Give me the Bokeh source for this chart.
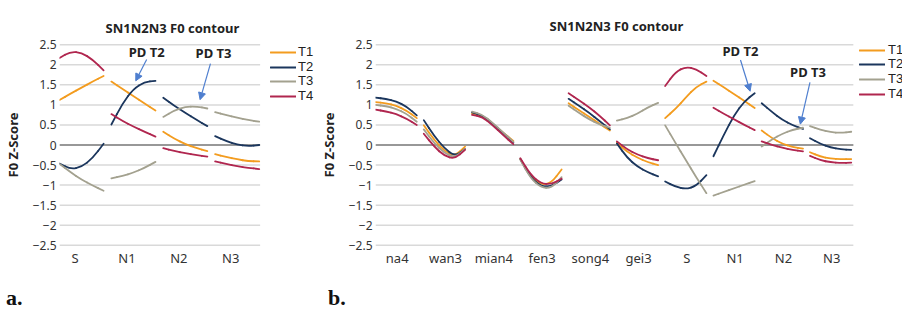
from bokeh.plotting import figure
from bokeh.models import FixedTicker, Label, Legend, LegendItem, Arrow, NormalHead, Range1d, Div
from bokeh.layouts import row, column
from bokeh.embed import file_html
from bokeh.resources import INLINE

# ---------------- data ----------------
tone_names = ["T1", "T2", "T3", "T4"]
tone_colors = ["#F39C1F", "#1B365D", "#A3A18F", "#B0264F"]

y_ticks = [-2.5, -2.0, -1.5, -1.0, -0.5, 0.0, 0.5, 1.0, 1.5, 2.0, 2.5]
y_tick_labels = ["\u22122.5", "\u22122", "\u22121.5", "\u22121", "\u22120.5", "0",
                 "0.5", "1", "1.5", "2", "2.5"]

# panel a: S N1 N2 N3 (5 samples per syllable)
a_syllables = ["S", "N1", "N2", "N3"]
a_T1 = [[1.12, 1.28, 1.43, 1.58, 1.72], [1.58, 1.40, 1.22, 1.04, 0.86],
        [0.33, 0.16, 0.02, -0.08, -0.15], [-0.23, -0.30, -0.36, -0.40, -0.41]]
a_T2 = [[-0.46, -0.60, -0.55, -0.33, 0.03], [0.51, 1.03, 1.40, 1.57, 1.60],
        [1.18, 0.98, 0.80, 0.63, 0.47], [0.22, 0.10, 0.01, -0.03, 0.00]]
a_T3 = [[-0.47, -0.68, -0.86, -1.01, -1.14], [-0.83, -0.77, -0.69, -0.57, -0.42],
        [0.70, 0.86, 0.95, 0.96, 0.91], [0.82, 0.75, 0.68, 0.62, 0.58]]
a_T4 = [[2.17, 2.33, 2.30, 2.13, 1.86], [0.77, 0.60, 0.46, 0.33, 0.21],
        [-0.08, -0.15, -0.21, -0.25, -0.29], [-0.41, -0.47, -0.53, -0.57, -0.60]]

# panel b: full sentence
b_syllables = ["na4", "wan3", "mian4", "fen3", "song4", "gei3", "S", "N1", "N2", "N3"]
b_T1 = [[1.07, 1.04, 0.98, 0.86, 0.67], [0.49, 0.13, -0.15, -0.28, -0.04],
        [0.78, 0.73, 0.53, 0.31, 0.10], [-0.35, -0.78, -0.99, -0.95, -0.61],
        [1.04, 0.87, 0.70, 0.53, 0.36], [0.06, -0.17, -0.32, -0.43, -0.50],
        [0.67, 0.90, 1.18, 1.45, 1.58], [1.60, 1.44, 1.27, 1.10, 0.92],
        [0.36, 0.17, 0.03, -0.05, -0.09], [-0.18, -0.29, -0.34, -0.35, -0.35]]
b_T2 = [[1.18, 1.15, 1.09, 0.96, 0.74], [0.62, 0.23, -0.08, -0.28, -0.10],
        [0.81, 0.74, 0.53, 0.30, 0.06], [-0.35, -0.81, -1.03, -1.03, -0.86],
        [1.15, 0.98, 0.80, 0.60, 0.39], [0.04, -0.32, -0.54, -0.68, -0.78],
        [-0.91, -1.04, -1.10, -1.02, -0.75], [-0.28, 0.25, 0.74, 1.09, 1.29],
        [1.04, 0.82, 0.63, 0.49, 0.40], [0.17, 0.03, -0.06, -0.11, -0.12]]
b_T3 = [[1.00, 0.97, 0.90, 0.78, 0.58], [0.39, 0.05, -0.20, -0.32, -0.10],
        [0.83, 0.76, 0.55, 0.32, 0.08], [-0.37, -0.83, -1.06, -1.07, -0.80],
        [0.98, 0.80, 0.64, 0.51, 0.43], [0.61, 0.67, 0.78, 0.94, 1.05],
        [0.49, 0.05, -0.37, -0.80, -1.20], [-1.26, -1.17, -1.08, -0.99, -0.90],
        [-0.04, 0.14, 0.28, 0.38, 0.43], [0.47, 0.38, 0.32, 0.30, 0.33]]
b_T4 = [[0.88, 0.84, 0.77, 0.66, 0.50], [0.28, -0.04, -0.27, -0.35, -0.12],
        [0.75, 0.70, 0.49, 0.25, 0.02], [-0.33, -0.74, -0.96, -0.98, -0.84],
        [1.29, 1.12, 0.94, 0.73, 0.49], [0.09, -0.11, -0.24, -0.33, -0.38],
        [1.47, 1.82, 1.95, 1.89, 1.72], [0.93, 0.78, 0.64, 0.50, 0.37],
        [0.09, 0.00, -0.07, -0.12, -0.16], [-0.27, -0.38, -0.43, -0.45, -0.44]]

title_text = "SN1N2N3 F0 contour"
y_title = "F0 Z-Score"

FONT = "Noto Sans"
ARROW_C = "#4F7FCF"
SAMPLE_FRACS = [0.0, 0.25, 0.5, 0.75, 1.0]


def curve_pieces(xs, ys):
    """Smooth quadratic pieces along a polyline (control points = samples)."""
    x0, y0, x1, y1, cx, cy = [], [], [], [], [], []
    mx = [(xs[k] + xs[k + 1]) / 2 for k in range(len(xs) - 1)]
    my = [(ys[k] + ys[k + 1]) / 2 for k in range(len(ys) - 1)]
    x0.append(xs[0]); y0.append(ys[0]); x1.append(mx[0]); y1.append(my[0])
    cx.append((xs[0] + mx[0]) / 2); cy.append((ys[0] + my[0]) / 2)
    for k in range(1, len(xs) - 1):
        x0.append(mx[k - 1]); y0.append(my[k - 1]); x1.append(mx[k]); y1.append(my[k])
        cx.append(xs[k]); cy.append(ys[k])
    x0.append(mx[-1]); y0.append(my[-1]); x1.append(xs[-1]); y1.append(ys[-1])
    cx.append((xs[-1] + mx[-1]) / 2); cy.append((ys[-1] + my[-1]) / 2)
    return x0, y0, x1, y1, cx, cy


def make_panel(syllables, tones, width, height, b_left, b_top, b_bottom,
               x_lo, plot_px, unit_px, seg_len, title_off, title_standoff, legend_x,
               legend_centers, label_standoff, notes):
    frame_w = width - b_left
    frame_h = height - b_top - b_bottom
    x_hi = x_lo + frame_w / unit_px
    x_end = x_lo + plot_px / unit_px
    p = figure(width=width, height=height, output_backend="svg", toolbar_location=None,
               x_range=Range1d(x_lo, x_hi), y_range=Range1d(-2.53, 2.53),
               min_border_left=b_left, min_border_right=0,
               min_border_top=b_top, min_border_bottom=b_bottom)
    p.outline_line_color = None
    p.xgrid.visible = False
    p.ygrid.visible = False

    p.title.text = title_text
    p.title.align = "left"
    p.title.offset = title_off
    p.title.standoff = title_standoff
    p.title.text_font = FONT
    p.title.text_font_size = "13px"
    p.title.text_font_style = "bold"
    p.title.text_color = "#222222"

    p.yaxis.ticker = FixedTicker(ticks=y_ticks)
    p.yaxis.major_label_overrides = dict(zip(y_ticks, y_tick_labels))
    p.yaxis.axis_line_color = None
    p.yaxis.major_tick_in = 0
    p.yaxis.major_tick_out = 0
    p.yaxis.minor_tick_out = 0
    p.yaxis.minor_tick_in = 0
    p.yaxis.major_label_standoff = 3
    p.yaxis.major_label_text_font = FONT
    p.yaxis.major_label_text_font_size = "12px"
    p.yaxis.major_label_text_color = "#333333"
    p.yaxis.axis_label = y_title
    p.yaxis.axis_label_text_font = FONT
    p.yaxis.axis_label_text_font_size = "13px"
    p.yaxis.axis_label_text_font_style = "bold"
    p.yaxis.axis_label_text_color = "#222222"
    p.yaxis.axis_label_standoff = 8

    n = len(syllables)
    p.xaxis.ticker = FixedTicker(ticks=list(range(n)))
    p.xaxis.major_label_overrides = {i: s for i, s in enumerate(syllables)}
    p.xaxis.axis_line_color = None
    p.xaxis.major_tick_in = 0
    p.xaxis.major_tick_out = 0
    p.xaxis.minor_tick_out = 0
    p.xaxis.minor_tick_in = 0
    p.xaxis.major_label_standoff = 2
    p.xaxis.major_label_text_font = FONT
    p.xaxis.major_label_text_font_size = "13px"
    p.xaxis.major_label_text_color = "#333333"

    # horizontal grid lines limited to the plotting area, and the zero axis line
    p.segment(x0=[x_lo] * len(y_ticks), y0=y_ticks, x1=[x_end] * len(y_ticks), y1=y_ticks,
              line_color="#D9D9D9", line_width=1.5)
    p.segment(x0=[x_lo], y0=[0], x1=[x_end], y1=[0], line_color="#7F7F7F", line_width=1.5)

    for k, (name, color, vals) in enumerate(zip(tone_names, tone_colors, tones)):
        X0, Y0, X1, Y1, CX, CY = [], [], [], [], [], []
        for i in range(n):
            xs = [i + x_lo + f * seg_len for f in SAMPLE_FRACS]
            a, b, c, d, e, f_ = curve_pieces(xs, vals[i])
            X0 += a; Y0 += b; X1 += c; Y1 += d; CX += e; CY += f_
        r = p.quadratic(x0=X0, y0=Y0, x1=X1, y1=Y1, cx=CX, cy=CY, line_color=color,
                        line_width=1.8, line_cap="round")
        lg = Legend(items=[LegendItem(label=name, renderers=[r])],
                    location=(legend_x, frame_h - legend_centers[k] - 7),
                    glyph_width=26, glyph_height=14, label_height=14, label_width=20,
                    label_standoff=label_standoff, padding=0, margin=0,
                    border_line_color=None, background_fill_alpha=0,
                    label_text_font="Liberation Sans", label_text_font_size="13px",
                    label_text_color="#222222")
        p.add_layout(lg)

    for (tx, ty, txt, xs0, ys0, xe, ye) in notes:
        p.add_layout(Label(x=tx, y=ty, text=txt, text_align="center", text_baseline="middle",
                           text_font=FONT, text_font_size="13px", text_font_style="bold",
                           text_color="#222222"))
        p.add_layout(Arrow(end=NormalHead(size=7, fill_color=ARROW_C, line_color=ARROW_C),
                           x_start=xs0, y_start=ys0, x_end=xe, y_end=ye,
                           line_color=ARROW_C, line_width=1.2))
    return p


notes_a = [(1.38, 2.33, "PD T2", 1.38, 2.13, 1.17, 1.60),
           (2.67, 2.30, "PD T3", 2.61, 2.03, 2.41, 1.13)]
notes_b = [(7.11, 2.34, "PD T2", 7.11, 2.12, 7.31, 1.34),
           (8.51, 1.83, "PD T3", 8.55, 1.56, 8.35, 0.52)]

pa = make_panel(a_syllables, [a_T1, a_T2, a_T3, a_T4], 316, 281, 47, 43, 35,
                -0.3, 210, 54.3, 0.85, 46, 14, 211, [9, 24, 38, 53], 2, notes_a)
pb = make_panel(b_syllables, [b_T1, b_T2, b_T3, b_T4], 586, 281, 50, 40, 35,
                -0.45, 486, 49.1, 0.855, 174, 18, 484, [10, 24, 39, 54], 3, notes_b)

tag_style = {"font-family": "Liberation Serif", "font-weight": "bold", "font-size": "22px",
             "line-height": "24px", "color": "#111111"}
da = Div(text="a.", width=313, height=24, styles=dict(tag_style, **{"padding-left": "1px"}))
db = Div(text="b.", width=589, height=24, styles=dict(tag_style, **{"padding-left": "0px"}))

layout = column(row(pa, pb), row(da, db))
open("out.html", "w").write(file_html(layout, INLINE))
